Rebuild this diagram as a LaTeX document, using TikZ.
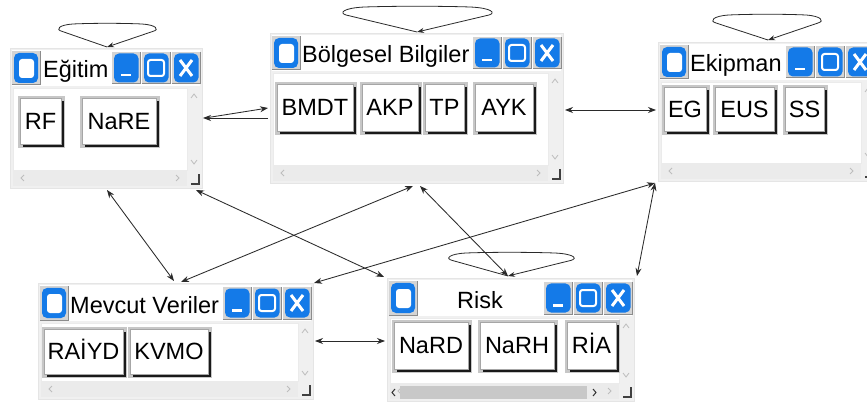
\documentclass[tikz,border=0pt]{standalone}
\usepackage{fontspec}
\setmainfont{Liberation Sans}
\usetikzlibrary{calc,arrows.meta}
\definecolor{wbg}{HTML}{F0F0F0}
\definecolor{wblue}{RGB}{20,122,232}
\definecolor{sbar}{HTML}{EBEBEB}
\definecolor{chev}{HTML}{BDBDBD}
\definecolor{lnk}{HTML}{2A2A2A}
\definecolor{thumb}{HTML}{C8C8C8}
\tikzset{
 winframe/.style={fill=wbg, draw=black!10, inner sep=0pt, outer sep=0pt, line width=0.6pt},
 wtitle/.style={anchor=base west, inner sep=0pt, font=\fontsize{23.5}{26}\selectfont},
 btn/.style={fill=white, draw=black!35, line width=0.7pt, inner sep=0pt, outer sep=0pt, font=\fontsize{23.5}{26}\selectfont, text height=16.8pt, text depth=0pt},
 btnframe/.style={fill=black!22},
 btnshadow/.style={fill=black!90},
 link/.style={draw=lnk, line width=0.85pt, {Stealth[length=8pt,width=6pt]}-{Stealth[length=8pt,width=6pt]}},
 oneway/.style={draw=lnk, line width=0.85pt, -{Stealth[length=8pt,width=6pt]}},
 chevron/.style={draw=chev, line width=0.8pt},
 tfr/.style={fill=black!17},
}
% window chrome: name L T R B
\newcommand\win[5]{%
 \pgfmathsetmacro\ww{#4-#2}\pgfmathsetmacro\wh{#5-#3}%
 \node[winframe, minimum width=\ww pt, minimum height=\wh pt, anchor=north west] (#1) at (#2,#3) {};
 \fill[white] (#2+2,#3+2) rectangle (#4-2,#3+38);
 \filldraw[fill=white, draw=black!8] (#2+3,#3+40) rectangle (#4-15,#5-18);
 \fill[sbar] (#2+3,#5-17) rectangle (#4-15,#5-2);
 \draw[chevron] (#4-11,#3+50) -- (#4-8,#3+46) -- (#4-5,#3+50);
 \draw[chevron] (#4-11,#5-28) -- (#4-8,#5-24) -- (#4-5,#5-28);
 \draw[chevron] (#2+14,#5-13) -- (#2+11,#5-10) -- (#2+14,#5-7);
 \draw[chevron] (#4-26,#5-13) -- (#4-23,#5-10) -- (#4-26,#5-7);
 \draw[black!75, line width=1.3pt] (#4-11,#5-4) -- (#4-3,#5-4) -- (#4-3,#5-14);
 % checkbox
 \fill[tfr] (#2+2,#3+3) rectangle (#2+30,#3+37);
 \draw[black!45, line width=1pt] (#2+2,#3+37) -- (#2+30,#3+37) -- (#2+30,#3+3);
 \fill[wblue, rounded corners=5pt] (#2+4,#3+5) rectangle (#2+28,#3+35);
 \fill[white, rounded corners=3pt] (#2+9,#3+11) rectangle (#2+24,#3+30);
 % title buttons
 \foreach \bxx in {90,60,30}{%
  \fill[tfr] (#4-\bxx,#3+4) rectangle (#4-\bxx+28,#3+36);
  \draw[black!45, line width=1pt] (#4-\bxx,#3+36) -- (#4-\bxx+28,#3+36) -- (#4-\bxx+28,#3+4);
  \fill[wblue, rounded corners=5pt] (#4-\bxx+2,#3+5.5) rectangle (#4-\bxx+26.5,#3+34.5);
 }
 \fill[white] (#4-81,#3+26) rectangle (#4-71,#3+28.5);
 \draw[white, line width=2pt, rounded corners=2.5pt] (#4-54,#3+12) rectangle (#4-38,#3+28);
 \draw[white, line width=3pt] (#4-22,#3+12) -- (#4-10,#3+28) (#4-10,#3+12) -- (#4-22,#3+28);
}
% button: name x1 x2 y1 y2 text
\newcommand\wbtn[6]{%
 \fill[btnframe] (#2,#4) rectangle (#3,#5);
 \fill[btnshadow] (#2+5,#4+5) rectangle (#3-1,#5-1);
 \pgfmathsetmacro\bw{#3-#2-6}\pgfmathsetmacro\bh{#5-#4-6}%
 \pgfmathsetmacro\bx{(#2+#3)/2-1}\pgfmathsetmacro\by{(#4+#5)/2-1}%
 \node[btn, minimum width=\bw pt, minimum height=\bh pt] (#1) at (\bx,\by) {#6};
}
% self loop: node dx dy a b h
\newcommand\sloop[6]{%
 \coordinate (#1tip) at ($(#1.north west)+(#2,#3)$);
 \draw[oneway, line width=0.8pt, -{Stealth[length=7pt,width=5pt]}] (#1tip)
  -- ($(#1tip)+({-#4+4},{-0.68*#6})$)
  .. controls ($(#1tip)+({-#4-3},{-0.76*#6})$) and ($(#1tip)+({-#4+1},{-0.96*#6})$) .. ($(#1tip)+({-0.7*#4},{-#6})$)
  .. controls ($(#1tip)+({-0.3*#4},{-1.04*#6})$) and ($(#1tip)+({0.3*#5},{-1.04*#6})$) .. ($(#1tip)+({0.7*#5},{-#6})$)
  .. controls ($(#1tip)+({#5-1},{-0.96*#6})$) and ($(#1tip)+({#5+3},{-0.76*#6})$) .. ($(#1tip)+({#5-4},{-0.68*#6})$)
  -- (#1tip);
}
\begin{document}
\begin{tikzpicture}[x=1pt,y=-1pt]
\useasboundingbox[fill=white] (0,0) rectangle (867,403);

\win{egitim}{10}{48}{202}{188}
\win{bolg}{270}{33}{563}{183}
\win{ekip}{658}{42}{876}{181}
\win{mevcut}{38}{283}{313}{399}
\win{risk}{387}{278}{634}{401}
% risk scrollbar thumb and active arrows
\fill[thumb] (400,386) rectangle (587,399);
\draw[black!80, line width=1pt] (395,389) -- (392,392.5) -- (395,396);
\draw[black!80, line width=1pt] (593,389) -- (596,392.5) -- (593,396);

\node[wtitle] (egitimT) at (43,78) {Eğitim};
\node[wtitle] (bolgT) at (302,63) {Bölgesel Bilgiler};
\node[wtitle] (ekipT) at (690,72) {Ekipman};
\node[wtitle] (mevcutT) at (70,313) {Mevcut Veriler};
\node[wtitle, anchor=base] (riskT) at (480,308) {Risk};

\wbtn{rf}{18}{65}{96}{148}{RF}
\wbtn{nare}{80}{160}{96}{148}{NaRE}
\wbtn{bmdt}{275}{357}{82}{135}{BMDT}
\wbtn{akp}{360}{422}{82}{135}{AKP}
\wbtn{tp}{423}{468}{82}{135}{TP}
\wbtn{ayk}{473}{537}{82}{135}{AYK}
\wbtn{eg}{662}{710}{85}{135}{EG}
\wbtn{eus}{713}{778}{85}{135}{EUS}
\wbtn{ss}{783}{828}{85}{135}{SS}
\wbtn{raiyd}{42}{127}{327}{378}{RAİYD}
\wbtn{kvmo}{128}{212}{327}{378}{KVMO}
\wbtn{nard}{392}{472}{320}{373}{NaRD}
\wbtn{narh}{478}{558}{320}{373}{NaRH}
\wbtn{ria}{565}{620}{320}{373}{RİA}

\sloop{egitim}{97}{-1}{49}{50}{23}
\sloop{bolg}{147}{-1}{75}{76}{25}
\sloop{ekip}{110}{-2}{56}{54}{25}
\sloop{risk}{121}{-2}{60}{67}{23}

\draw[oneway] ($(egitim.north east)+(3,70)$) -- ($(bolg.north west)+(-2,75)$);
\draw[oneway] ($(bolg.north west)+(-2,85)$) -- ($(egitim.north east)+(1,70)$);
\draw[link] ($(bolg.north east)+(2,77)$) -- ($(ekip.north west)+(-2,68)$);
\draw[link] ($(mevcut.north east)+(2,58)$) -- ($(risk.north west)+(-2,63)$);
\draw[link] ($(egitim.south west)+(97,2)$) -- ($(mevcut.north west)+(136,-2)$);
\draw[link] ($(egitim.south east)+(-6,2)$) -- ($(risk.north west)+(-3,-1)$);
\draw[link] ($(bolg.south west)+(143,3)$) -- ($(mevcut.north west)+(143,-1)$);
\draw[link] ($(bolg.south west)+(150,3)$) -- ($(risk.north west)+(121,-2)$);
\draw[link] ($(ekip.south west)+(-3,2)$) -- ($(mevcut.north east)+(1,0)$);
\draw[link] ($(ekip.south west)+(-3,2)$) -- ($(risk.north east)+(3,-2)$);
\end{tikzpicture}
\end{document}
